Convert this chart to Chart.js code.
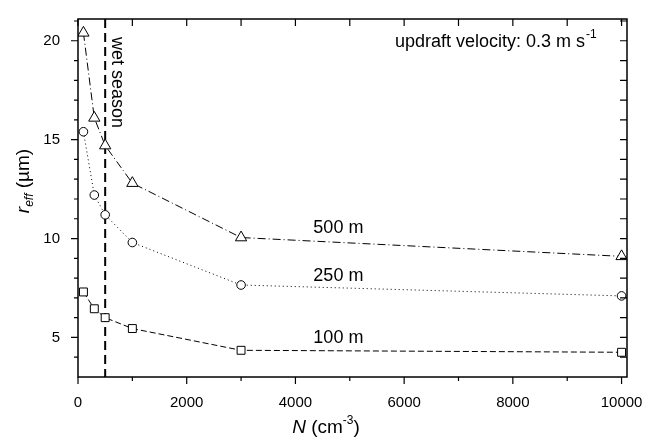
<!DOCTYPE html>
<html>
<head>
<meta charset="utf-8">
<script src="https://cdn.jsdelivr.net/npm/chart.js@4"></script>
<style>
  html, body { margin: 0; padding: 0; background: #fff; }
  #wrap { width: 662px; height: 440px; }
</style>
</head>
<body>
<div id="wrap"><canvas id="chart"></canvas></div>
<script>
// cloud droplet number concentration N (cm^-3)
const nValues = [100, 300, 500, 1000, 3000, 10000];
// effective radius (um) at three heights above cloud base
const reff500 = [20.4, 16.1, 14.7, 12.8, 10.05, 9.1];
const reff250 = [15.4, 12.2, 11.2, 9.8, 7.65, 7.1];
const reff100 = [7.3, 6.45, 6.0, 5.45, 4.35, 4.25];
const heightLabels = ['500 m', '250 m', '100 m'];
const xTickValues = [0, 2000, 4000, 6000, 8000, 10000];
const yTickValues = [5, 10, 15, 20];
const wetSeasonN = 500;

const FONT = '"Liberation Sans", Arial, sans-serif';

function toPoints(ys) {
  return nValues.map((n, i) => ({ x: n, y: ys[i] }));
}

function series(label, ys, style, dash, radius) {
  return {
    label: label,
    data: toPoints(ys),
    showLine: true,
    borderColor: '#000',
    borderWidth: 1,
    borderDash: dash,
    backgroundColor: '#fff',
    pointStyle: style,
    pointRadius: radius,
    pointBorderWidth: 1,
    pointBorderColor: '#000',
    pointBackgroundColor: '#fff'
  };
}

// frame, ticks, annotations
const decorations = {
  id: 'decorations',
  beforeDatasetsDraw(chart) {
    const { ctx, chartArea: a, scales: { x } } = chart;
    // wet season line
    const wx = x.getPixelForValue(wetSeasonN);
    ctx.save();
    ctx.strokeStyle = '#000';
    ctx.lineWidth = 2;
    ctx.setLineDash([9, 5]);
    ctx.beginPath();
    ctx.moveTo(wx, a.top);
    ctx.lineTo(wx, a.bottom);
    ctx.stroke();
    ctx.restore();
  },
  afterDraw(chart) {
    const { ctx, chartArea: a, scales: { x, y } } = chart;
    ctx.save();
    ctx.strokeStyle = '#000';
    ctx.lineWidth = 1.5;
    ctx.strokeRect(a.left, a.top, a.right - a.left, a.bottom - a.top);

    ctx.lineWidth = 1.2;
    ctx.beginPath();
    for (let v = 0; v <= 10000; v += 1000) {
      const px = x.getPixelForValue(v);
      const major = v % 2000 === 0;
      ctx.moveTo(px, a.bottom);
      ctx.lineTo(px, a.bottom + (major ? 7 : 4));
      ctx.moveTo(px, a.top);
      ctx.lineTo(px, a.top + 7);
    }
    for (let v = 4; v <= 21; v += 1) {
      const py = y.getPixelForValue(v);
      const major = v % 5 === 0;
      ctx.moveTo(a.left, py);
      ctx.lineTo(a.left - (major ? 7 : 4), py);
      ctx.moveTo(a.right, py);
      ctx.lineTo(a.right - 7, py);
    }
    ctx.stroke();

    ctx.fillStyle = '#000';
    ctx.textBaseline = 'middle';
    ctx.font = '18px ' + FONT;

    // curve labels
    const lx = x.getPixelForValue(4330);
    const ly = [10.52, 8.08, 4.96];
    heightLabels.forEach((t, i) => {
      ctx.textAlign = 'left';
      ctx.fillText(t, lx, y.getPixelForValue(ly[i]));
    });

    // updraft text
    ctx.textAlign = 'left';
    const ux = 395, uy = 42;
    const main = 'updraft velocity: 0.3 m s';
    ctx.fillText(main, ux, uy);
    const w = ctx.measureText(main).width;
    ctx.font = '12px ' + FONT;
    ctx.fillText('-1', ux + w + 1, uy - 7);

    // wet season text
    ctx.save();
    ctx.translate(x.getPixelForValue(wetSeasonN) + 7, a.top + 18);
    ctx.rotate(Math.PI / 2);
    ctx.font = '18px ' + FONT;
    ctx.textAlign = 'left';
    ctx.textBaseline = 'alphabetic';
    ctx.fillText('wet season', 0, 0);
    ctx.restore();

    // x title: N (cm-3)
    ctx.textBaseline = 'alphabetic';
    const parts = [
      { t: 'N', f: 'italic 19px ' + FONT, dy: 0 },
      { t: ' (cm', f: '19px ' + FONT, dy: 0 },
      { t: '-3', f: '12px ' + FONT, dy: -9 },
      { t: ')', f: '19px ' + FONT, dy: 0 }
    ];
    drawParts(ctx, parts, 326, 433);

    // y title: r_eff (um)
    ctx.save();
    ctx.translate(29, 181);
    ctx.rotate(-Math.PI / 2);
    const yparts = [
      { t: 'r', f: 'italic 19px ' + FONT, dy: 0 },
      { t: 'eff', f: 'italic 12px ' + FONT, dy: 4 },
      { t: ' (\u00b5m)', f: '19px ' + FONT, dy: 0 }
    ];
    drawParts(ctx, yparts, 0, 0);
    ctx.restore();
    ctx.restore();
  }
};

function drawParts(ctx, parts, cx, baseY) {
  let total = 0;
  parts.forEach(p => { ctx.font = p.f; total += ctx.measureText(p.t).width; });
  let cur = cx - total / 2;
  ctx.textAlign = 'left';
  parts.forEach(p => {
    ctx.font = p.f;
    ctx.fillText(p.t, cur, baseY + p.dy);
    cur += ctx.measureText(p.t).width;
  });
}

new Chart(document.getElementById('chart'), {
  type: 'scatter',
  data: {
    datasets: [
      series('500 m', reff500, 'triangle', [8, 3, 1, 3], 6.5),
      series('250 m', reff250, 'circle', [1, 3], 4.3),
      series('100 m', reff100, 'rect', [6, 3], 5.6)
    ]
  },
  options: {
    responsive: true,
    maintainAspectRatio: false,
    animation: false,
    layout: { padding: { left: 0, right: 35, top: 7, bottom: 0 } },
    plugins: {
      legend: { display: false },
      tooltip: { enabled: false }
    },
    scales: {
      x: {
        type: 'linear',
        min: 0,
        max: 10100,
        afterBuildTicks: s => { s.ticks = xTickValues.map(v => ({ value: v })); },
        afterFit: s => { s.height = 63; },
        grid: { display: false },
        border: { display: false },
        ticks: { color: '#000', padding: 9, maxRotation: 0, callback: v => String(v), font: { size: 15, family: FONT } }
      },
      y: {
        type: 'linear',
        min: 3,
        max: 21.1,
        afterBuildTicks: s => { s.ticks = yTickValues.map(v => ({ value: v })); },
        afterFit: s => { s.width = 78; },
        grid: { display: false },
        border: { display: false },
        ticks: { color: '#000', padding: 10, callback: v => String(v), font: { size: 15, family: FONT } }
      }
    }
  },
  plugins: [decorations]
});
</script>
</body>
</html>
